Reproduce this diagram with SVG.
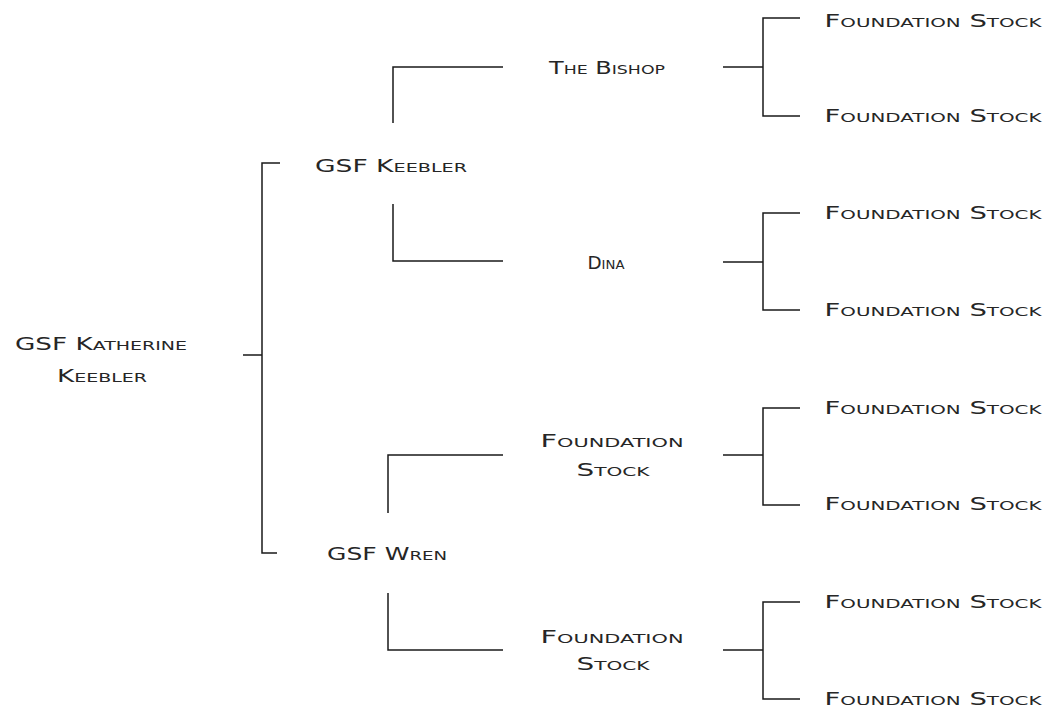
<svg xmlns="http://www.w3.org/2000/svg" width="1048" height="711" viewBox="0 0 1048 711">
<style>
.t{font-family:"DejaVu Sans","Liberation Sans",sans-serif;font-size:18px;font-variant:small-caps;fill:#262626;text-anchor:middle;dominant-baseline:central}
.c{fill:none;stroke:#1a1a1a;stroke-width:1.5}
</style>
<rect width="1048" height="711" fill="#ffffff"/>
<g id="connectors" class="c">
<path d="M243,355H262M280,163H262V553H277"/>
<path d="M503,67H393V123M393,204V261H503"/>
<path d="M503,455H388V513M388,593V650H503"/>
<path d="M723,67H763M800,18H763V116H800"/>
<path d="M723,262H763M800,213H763V310H800"/>
<path d="M723,455H763M800,408H763V505H800"/>
<path d="M723,650H763M800,602H763V699H800"/>
</g>
<g id="root"><text class="t" x="101" y="343" textLength="172" lengthAdjust="spacingAndGlyphs">GSF Katherine</text><text class="t" x="102" y="375" textLength="90" lengthAdjust="spacingAndGlyphs">Keebler</text></g>
<g id="keebler"><text class="t" x="391" y="165" textLength="152" lengthAdjust="spacingAndGlyphs">GSF Keebler</text></g>
<g id="wren"><text class="t" x="387" y="553" textLength="120" lengthAdjust="spacingAndGlyphs">GSF Wren</text></g>
<g id="bishop"><text class="t" x="607" y="67" textLength="116" lengthAdjust="spacingAndGlyphs">The Bishop</text></g>
<g id="dina"><text class="t" x="606" y="262" textLength="37" lengthAdjust="spacingAndGlyphs">Dina</text></g>
<g id="fs-mid1"><text class="t" x="612" y="440" textLength="143" lengthAdjust="spacingAndGlyphs">Foundation</text><text class="t" x="613" y="469" textLength="73" lengthAdjust="spacingAndGlyphs">Stock</text></g>
<g id="fs-mid2"><text class="t" x="612" y="636" textLength="143" lengthAdjust="spacingAndGlyphs">Foundation</text><text class="t" x="613" y="663" textLength="73" lengthAdjust="spacingAndGlyphs">Stock</text></g>
<g id="fs1"><text class="t" x="933" y="20" textLength="217" lengthAdjust="spacingAndGlyphs">Foundation Stock</text></g>
<g id="fs2"><text class="t" x="933" y="115" textLength="217" lengthAdjust="spacingAndGlyphs">Foundation Stock</text></g>
<g id="fs3"><text class="t" x="933" y="212" textLength="217" lengthAdjust="spacingAndGlyphs">Foundation Stock</text></g>
<g id="fs4"><text class="t" x="933" y="309" textLength="217" lengthAdjust="spacingAndGlyphs">Foundation Stock</text></g>
<g id="fs5"><text class="t" x="933" y="407" textLength="217" lengthAdjust="spacingAndGlyphs">Foundation Stock</text></g>
<g id="fs6"><text class="t" x="933" y="503" textLength="217" lengthAdjust="spacingAndGlyphs">Foundation Stock</text></g>
<g id="fs7"><text class="t" x="933" y="601" textLength="217" lengthAdjust="spacingAndGlyphs">Foundation Stock</text></g>
<g id="fs8"><text class="t" x="933" y="698" textLength="217" lengthAdjust="spacingAndGlyphs">Foundation Stock</text></g>
</svg>
